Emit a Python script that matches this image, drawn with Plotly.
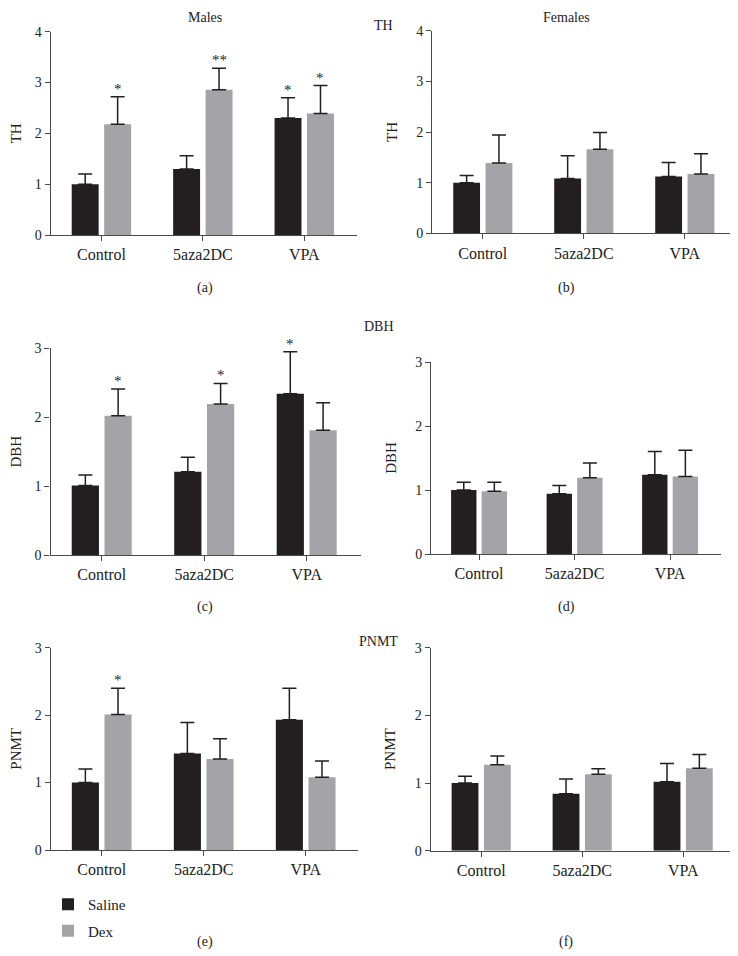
import plotly.graph_objects as go
from plotly.subplots import make_subplots

categories = ["Control", "5aza2DC", "VPA"]

# Males TH (a)
a_saline = [1.00, 1.30, 2.30]
a_saline_err = [0.20, 0.26, 0.40]
a_dex = [2.18, 2.86, 2.39]
a_dex_err = [0.54, 0.42, 0.55]
a_saline_sig = ["", "", "*"]
a_dex_sig = ["*", "**", "*"]

# Females TH (b)
b_saline = [1.00, 1.08, 1.12]
b_saline_err = [0.14, 0.45, 0.28]
b_dex = [1.39, 1.66, 1.17]
b_dex_err = [0.55, 0.33, 0.40]

# Males DBH (c)
c_saline = [1.01, 1.21, 2.34]
c_saline_err = [0.15, 0.21, 0.61]
c_dex = [2.02, 2.19, 1.81]
c_dex_err = [0.39, 0.30, 0.40]
c_saline_sig = ["", "", "*"]
c_dex_sig = ["*", "*", ""]

# Females DBH (d)
d_saline = [1.00, 0.94, 1.24]
d_saline_err = [0.12, 0.13, 0.36]
d_dex = [0.98, 1.19, 1.21]
d_dex_err = [0.14, 0.23, 0.41]

# Males PNMT (e)
e_saline = [1.00, 1.43, 1.93]
e_saline_err = [0.20, 0.46, 0.47]
e_dex = [2.01, 1.35, 1.08]
e_dex_err = [0.39, 0.30, 0.24]
e_dex_sig = ["*", "", ""]

# Females PNMT (f)
f_saline = [1.00, 0.84, 1.02]
f_saline_err = [0.10, 0.22, 0.27]
f_dex = [1.27, 1.13, 1.22]
f_dex_err = [0.13, 0.08, 0.20]

y_ticks_th = [0, 1, 2, 3, 4]
y_ticks_other = [0, 1, 2, 3]

SAL = "#231f20"
DEX = "#a4a4a8"
AX = "#4a4a4a"
TXT = "#222222"
FONT = "Liberation Serif"

# page is 738x956; the html body adds an 8px margin at top/left
OFF = 8
W, H = 738 - OFF, 956 - OFF


def px(x):
    return min(1.0, max(0.0, (x - OFF) / W))


def py(y):
    return min(1.0, max(0.0, 1 - (y - OFF) / H))


panels = [
    (1, 1, a_saline, a_saline_err, a_dex, a_dex_err, a_saline_sig, a_dex_sig, "TH", 4, y_ticks_th),
    (1, 2, b_saline, b_saline_err, b_dex, b_dex_err, None, None, "TH", 4, y_ticks_th),
    (2, 1, c_saline, c_saline_err, c_dex, c_dex_err, c_saline_sig, c_dex_sig, "DBH", 3, y_ticks_other),
    (2, 2, d_saline, d_saline_err, d_dex, d_dex_err, None, None, "DBH", 3, y_ticks_other),
    (3, 1, e_saline, e_saline_err, e_dex, e_dex_err, None, e_dex_sig, "PNMT", 3, y_ticks_other),
    (3, 2, f_saline, f_saline_err, f_dex, f_dex_err, None, None, "PNMT", 3, y_ticks_other),
]

# page-pixel layout of each panel: (x_left, x_right, y_top, y_bottom, x range max)
geom = {
    (1, 1): (50.7, 357.0, 31.7, 235.0, 2.52),
    (1, 2): (432.3, 735.3, 30.7, 233.3, 2.5),
    (2, 1): (50.5, 361.0, 348.3, 555.0, 2.53),
    (2, 2): (431.3, 720.7, 362.0, 554.0, 2.53),
    (3, 1): (50.7, 357.7, 647.7, 850.0, 2.51),
    (3, 2): (430.7, 735.7, 647.7, 850.7, 2.52),
}

fig = make_subplots(rows=3, cols=2)

for idx, (r, c, sal, sal_e, dex, dex_e, sal_sig, dex_sig, ytitle, ymax, ticks) in enumerate(panels):
    first = idx == 4
    fig.add_trace(go.Bar(
        x=categories, y=sal, name="Saline", marker=dict(color=SAL, line=dict(width=0)),
        error_y=dict(type="data", array=sal_e, arrayminus=[0] * 3, symmetric=False,
                     color=SAL, thickness=1.5, width=7),
        showlegend=first, legendgroup="saline"), row=r, col=c)
    fig.add_trace(go.Bar(
        x=categories, y=dex, name="Dex", marker=dict(color=DEX, line=dict(width=0)),
        error_y=dict(type="data", array=dex_e, arrayminus=[0] * 3, symmetric=False,
                     color=SAL, thickness=1.5, width=7),
        showlegend=first, legendgroup="dex"), row=r, col=c)

    xl, xr, yt, yb, xmax = geom[(r, c)]
    i = idx + 1
    xname = "xaxis" if i == 1 else f"xaxis{i}"
    yname = "yaxis" if i == 1 else f"yaxis{i}"
    fig.layout[xname].update(
        domain=[px(xl), px(xr)], range=[-0.5, xmax], type="category", automargin=False,
        showline=True, linecolor=AX, linewidth=1.3, ticks="outside", ticklen=5,
        tickcolor=AX, tickwidth=1.3, showgrid=False, zeroline=False,
        tickfont=dict(family=FONT, size=16, color=TXT), fixedrange=True)
    fig.layout[yname].update(
        domain=[py(yb), py(yt)], range=[0, ymax], tickvals=ticks, automargin=False,
        showline=True, linecolor=AX, linewidth=1.3, ticks="outside", ticklen=5,
        tickcolor=AX, tickwidth=1.3, showgrid=False, zeroline=False,
        tickfont=dict(family=FONT, size=14, color=TXT),
        title=dict(text=ytitle, font=dict(family=FONT, size=15, color=TXT)))

    xref = "x" if i == 1 else f"x{i}"
    yref = "y" if i == 1 else f"y{i}"
    for sigs, vals, errs, off in ((sal_sig, sal, sal_e, -0.16), (dex_sig, dex, dex_e, 0.16)):
        if sigs is None:
            continue
        for k, s in enumerate(sigs):
            if s:
                fig.add_annotation(x=k + off, y=vals[k] + errs[k], xref=xref, yref=yref,
                                   text=s, showarrow=False, yanchor="bottom", yshift=-2,
                                   font=dict(family=FONT, size=15, color=TXT))

# header and panel labels (page pixel positions)
labels = [
    ("Males", 205, 17), ("Females", 566, 17),
    ("TH", 383, 26), ("DBH", 379, 326), ("PNMT", 378, 641),
    ("(a)", 205, 288), ("(b)", 566, 288),
    ("(c)", 205, 607), ("(d)", 566, 607),
    ("(e)", 205, 942), ("(f)", 566, 942),
]
for t, lx, ly in labels:
    fig.add_annotation(x=px(lx), y=py(ly), xref="paper", yref="paper", text=t,
                       showarrow=False, xanchor="center", yanchor="middle",
                       font=dict(family=FONT, size=14, color=TXT))

fig.update_layout(
    width=W, height=H, margin=dict(l=0, r=0, t=0, b=0),
    paper_bgcolor="white", plot_bgcolor="white",
    barmode="group", bargap=0.36, bargroupgap=0.17,
    showlegend=True,
    legend=dict(x=px(48), y=py(888), xanchor="left", yanchor="top",
                font=dict(family=FONT, size=15, color=TXT),
                bgcolor="rgba(0,0,0,0)", tracegroupgap=4, itemwidth=30),
    font=dict(family=FONT),
)

fig.write_html("out.html")
